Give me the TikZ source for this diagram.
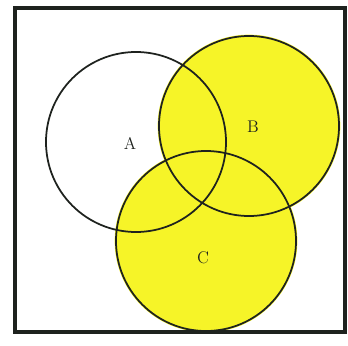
\documentclass[tikz,border=0pt]{standalone}
\usepackage{xcolor}
\usepackage{tikz}
\usetikzlibrary{positioning}
\definecolor{SetYellow}{RGB}{246,244,40}
\definecolor{InkGray}{RGB}{30,34,30}
\tikzset{
  frame/.style={draw=InkGray, line width=2.6pt},
  setline/.style={draw=InkGray, line width=1.5pt},
  setfill/.style={fill=SetYellow},
  setlabel/.style={font=\Large, text=InkGray, inner sep=0pt},
}
\begin{document}
\begin{tikzpicture}[x=0.03cm, y=-0.03cm]
  \useasboundingbox (0,0) rectangle (348,345);
  \coordinate (cA) at (136,142);
  \coordinate (cB) at (249,126);
  \coordinate (cC) at (206,241);
  % shaded region B or C
  \fill[setfill] (cB) circle[radius=2.74cm];
  \fill[setfill] (cC) circle[radius=2.74cm];
  % outlines
  \foreach \c in {cA,cB,cC}
    \draw[setline] (\c) circle[radius=2.7cm];
  \node[setlabel] (A) at (130,143) {A};
  \node[setlabel] (B) at (253,127) {B};
  \node[setlabel] (C) at (203,258) {C};
  \draw[frame] (15,8) rectangle (345,332);
\end{tikzpicture}
\end{document}
